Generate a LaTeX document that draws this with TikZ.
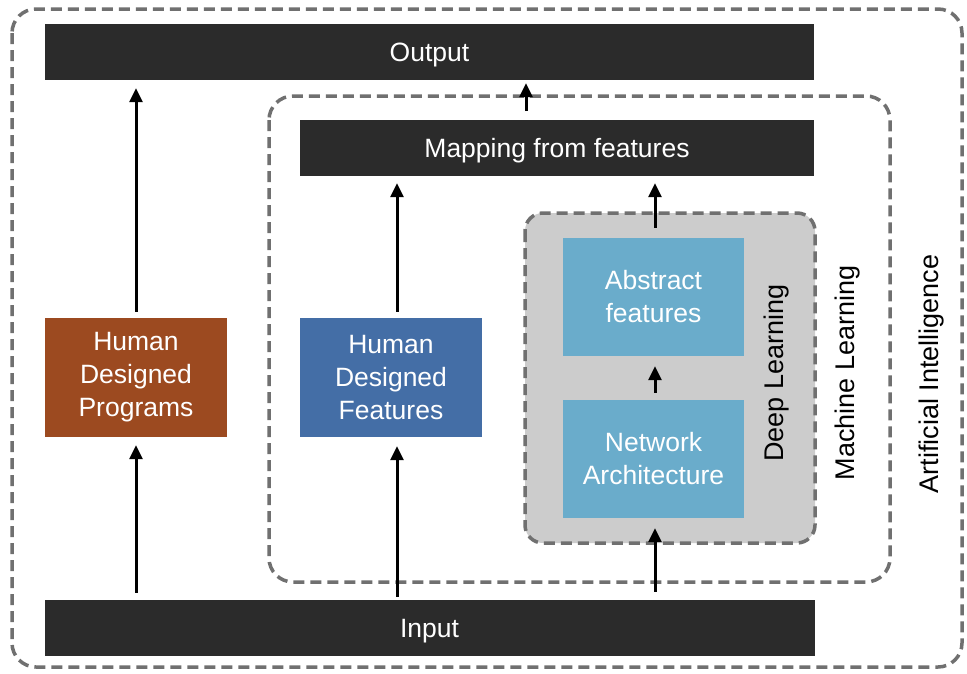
\documentclass[tikz,border=0pt]{standalone}
\usepackage{fontspec}
\setmainfont{Liberation Sans}
\usetikzlibrary{arrows.meta}
\definecolor{darkbox}{HTML}{2B2B2B}
\definecolor{brownbox}{HTML}{9C4A20}
\definecolor{bluebox}{HTML}{446EA6}
\definecolor{lightblue}{HTML}{6AACCB}
\definecolor{dlgray}{HTML}{CCCCCC}
\definecolor{dashgray}{HTML}{707070}
\tikzset{
  bar/.style={fill=darkbox, text=white, minimum height=56pt, inner sep=0pt, text height=19pt, text depth=0pt, font=\fontsize{26.5}{31}\selectfont},
  block/.style={text=white, minimum width=182pt, minimum height=119pt, inner sep=0pt, align=center, font=\fontsize{26.5}{33}\selectfont},
  container/.style={draw=dashgray, line width=3.5pt, dash pattern=on 11pt off 6pt, rounded corners=24pt},
  arr/.style={line width=3pt, -{Triangle[width=13pt,length=14pt]}},
  sidelabel/.style={rotate=90, font=\fontsize{27}{31}\selectfont}
}
\begin{document}
\begin{tikzpicture}[x=1pt,y=-1pt]
\useasboundingbox[fill=white] (0,0) rectangle (967,673);
% containers
\draw[container] (12,9) rectangle (962,667);
\draw[container] (269,96) rectangle (890,582);
\draw[container, fill=dlgray, rounded corners=18pt] (525,213) rectangle (815,543);
% bars
\node[bar, minimum width=769pt] (out) at (429.5,52) {Output};
\node[bar, minimum width=514pt] (map) at (557,148) {Mapping from features};
\node[bar, minimum width=770pt] (in) at (429.5,628) {Input};
% blocks
\node[block, fill=brownbox] (hdp) at (136,377.5) {Human\\Designed\\Programs};
\node[block, fill=bluebox] (hdf) at (391,377.5) {Human\\Designed\\Features};
\node[block, fill=lightblue, minimum width=181pt, minimum height=118pt] (af) at (653.5,297) {Abstract\\features};
\node[block, fill=lightblue, minimum width=181pt, minimum height=118pt] (na) at (653.5,459) {Network\\Architecture};
% labels
\node[sidelabel] (dl) at (777,373) {Deep Learning};
\node[sidelabel] (ml) at (848,373) {Machine Learning};
\node[sidelabel] (ai) at (932,374) {Artificial Intelligence};
% arrows
\draw[arr, shorten <=7pt, shorten >=8pt] (hdp.south |- in.north) -- (hdp.south);
\draw[arr, shorten <=6pt, shorten >=8pt] (hdp.north) -- (hdp.north |- out.south);
\draw[arr, shorten <=3pt, shorten >=9pt] ([xshift=6pt]hdf.south |- in.north) -- ([xshift=6pt]hdf.south);
\draw[arr, shorten <=6pt, shorten >=7pt] ([xshift=6pt]hdf.north) -- ([xshift=6pt]hdf.north |- map.south);
\draw[arr, shorten <=8pt, shorten >=10pt] ([xshift=1.5pt]na.south |- in.north) -- ([xshift=1.5pt]na.south);
\draw[arr, shorten <=7pt, shorten >=10pt] ([xshift=1.5pt]na.north) -- ([xshift=1.5pt]af.south);
\draw[arr, shorten <=10pt, shorten >=7pt] ([xshift=1.5pt]af.north) -- ([xshift=1.5pt]af.north |- map.south);
\coordinate (mo) at (526,120);
\draw[arr, shorten <=9pt, shorten >=3pt] (mo) -- (mo |- out.south);
\end{tikzpicture}
\end{document}
